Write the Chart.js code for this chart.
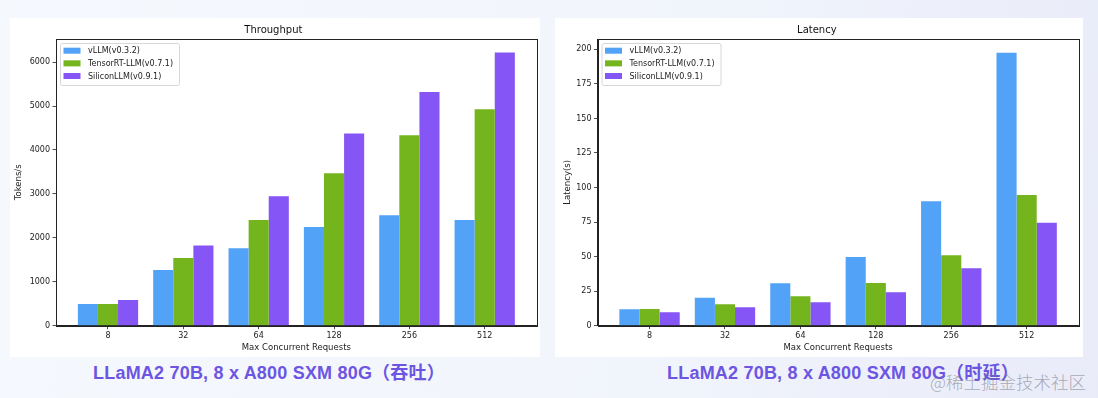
<!DOCTYPE html>
<html>
<head>
<meta charset="utf-8">
<script src="https://cdn.jsdelivr.net/npm/chart.js@4.4.1/dist/chart.umd.min.js"></script>
<style>
  html, body { margin: 0; padding: 0; }
  body {
    width: 1098px; height: 398px; overflow: hidden; position: relative;
    background: linear-gradient(100deg, #f5f8fd 0%, #f2f6fc 55%, #e9ebf9 100%);
  }
  .panel { position: absolute; background: #fff; }
  .panel canvas { display: block; }
  .caption {
    position: absolute; top: 361px; height: 24px; line-height: 24px;
    font-family: "Liberation Sans", "Noto Sans CJK SC", sans-serif;
    font-weight: bold; font-size: 18px; letter-spacing: 0.2px;
    color: #6c55e2; text-align: center; white-space: nowrap;
  }
  .mark {
    position: absolute; left: 930px; top: 369px;
    font-family: "Noto Sans CJK SC", sans-serif; font-size: 17.5px; font-weight: 300;
    color: rgba(110, 110, 125, 0.55); white-space: nowrap;
  }
</style>
</head>
<body>
<div class="panel" style="left:10px; top:18px; width:530px; height:339px;">
  <canvas id="throughput" width="530" height="339"></canvas>
</div>
<div class="panel" style="left:555px; top:18px; width:528px; height:339px;">
  <canvas id="latency" width="528" height="339"></canvas>
</div>
<div class="caption" style="left:69px; width:400px;">LLaMA2 70B, 8 x A800 SXM 80G（吞吐）</div>
<div class="caption" style="left:643px; width:400px;">LLaMA2 70B, 8 x A800 SXM 80G（时延）</div>
<div class="mark">@稀土掘金技术社区</div>

<script>
// ─── Data ────────────────────────────────────────────────────────────────────
const categories  = ["8", "32", "64", "128", "256", "512"];
const seriesNames = ["vLLM(v0.3.2)", "TensorRT-LLM(v0.7.1)", "SiliconLLM(v0.9.1)"];
const seriesColors = ["#52a2f7", "#74b41c", "#8655f6"];

const throughputVllm    = [493, 1265, 1760, 2245, 2515, 2405];
const throughputTrt     = [493, 1540, 2405, 3470, 4335, 4925];
const throughputSilicon = [585, 1825, 2945, 4375, 5320, 6215];
const throughputTicks   = [0, 1000, 2000, 3000, 4000, 5000, 6000];

const latencyVllm    = [11.9, 20.3, 30.7, 49.7, 90.0, 197.6];
const latencyTrt     = [12.1, 15.5, 21.3, 30.9, 51.0, 94.6];
const latencySilicon = [9.7, 13.3, 16.9, 24.2, 41.5, 74.5];
const latencyTicks   = [0, 25, 50, 75, 100, 125, 150, 175, 200];

Chart.defaults.font.family = "'DejaVu Sans', sans-serif";
Chart.defaults.color = "#222";
Chart.defaults.animation = false;

// matplotlib-style full frame round the plot area
const framePlugin = {
    id: "frame",
    afterDraw(chart) {
        const { ctx, chartArea: a } = chart;
        ctx.save();
        ctx.strokeStyle = "#222";
        ctx.lineWidth = 1;
        ctx.strokeRect(Math.round(a.left) + 0.5, Math.round(a.top) + 0.5,
                       Math.round(a.right - a.left), Math.round(a.bottom - a.top));
        ctx.restore();
    },
};

// legend drawn inside the plot, upper left, stacked like matplotlib
const insideLegend = {
    id: "insideLegend",
    afterDraw(chart) {
        const { ctx, chartArea: a } = chart;
        const sets = chart.data.datasets;
        ctx.save();
        ctx.font = "8px 'DejaVu Sans'";
        let w = 0;
        sets.forEach((d) => { w = Math.max(w, ctx.measureText(d.label).width); });
        const bx = a.left + 4, by = a.top + 4;
        const bw = w + 34, bh = 42;
        ctx.beginPath();
        ctx.roundRect(bx + 0.5, by + 0.5, bw, bh, 2);
        ctx.fillStyle = "rgba(255,255,255,0.85)";
        ctx.fill();
        ctx.strokeStyle = "#d6d6d6";
        ctx.lineWidth = 1;
        ctx.stroke();
        ctx.textBaseline = "middle";
        sets.forEach((d, i) => {
            const cy = a.top + 11.7 + i * 12.65;
            ctx.fillStyle = d.backgroundColor;
            ctx.fillRect(a.left + 7.5, cy - 3, 17, 6);
            ctx.fillStyle = "#222";
            ctx.fillText(d.label, a.left + 32, cy + 0.5);
        });
        ctx.restore();
    },
};

function makeChart(id, title, yTitle, values, ticks, yMax, yWidth, yTitlePad, rightPad) {
    new Chart(document.getElementById(id), {
        type: "bar",
        data: {
            datasets: values.map((vals, k) => ({
                label: seriesNames[k],
                data: vals.map((v, i) => ({ x: i, y: v })),
                backgroundColor: seriesColors[k],
                borderWidth: 0,
                categoryPercentage: 0.8,
                barPercentage: 1.0,
            })),
        },
        options: {
            responsive: false,
            devicePixelRatio: 1,
            layout: { padding: { left: 0, right: rightPad, top: 0, bottom: 0 } },
            plugins: {
                legend: { display: false },
                tooltip: { enabled: false },
                title: {
                    display: true, text: title, color: "#111",
                    font: { size: 10, weight: "normal" },
                    padding: { top: 6, bottom: 3 },
                },
            },
            scales: {
                x: {
                    type: "linear", min: -0.69, max: 5.69, offset: false,
                    afterBuildTicks: (s) => { s.ticks = categories.map((_, i) => ({ value: i })); },
                    afterFit: (s) => { s.height = 31.3; },
                    ticks: {
                        callback: (v) => categories[v] ?? "",
                        font: { size: 8 }, padding: 1.5, maxRotation: 0,
                    },
                    grid: { offset: false, drawOnChartArea: false, tickLength: 3.5, color: "#222", lineWidth: 0.8 },
                    border: { display: true, color: "#222" },
                    title: {
                        display: true, text: "Max Concurrent Requests",
                        font: { size: 8.5 }, padding: { top: 0, bottom: 4.2 },
                    },
                },
                y: {
                    min: 0, max: yMax,
                    afterBuildTicks: (s) => { s.ticks = ticks.map((v) => ({ value: v })); },
                    afterFit: (s) => { s.width = yWidth; },
                    ticks: { font: { size: 8 }, padding: 2.5, callback: (v) => String(v) },
                    grid: { drawOnChartArea: false, tickLength: 3.5, color: "#222", lineWidth: 0.8 },
                    border: { display: true, color: "#222" },
                    title: {
                        display: true, text: yTitle,
                        font: { size: 8.5 }, padding: { top: yTitlePad, bottom: 0 },
                    },
                },
            },
        },
        plugins: [framePlugin, insideLegend],
    });
}

makeChart("throughput", "Throughput", "Tokens/s",
    [throughputVllm, throughputTrt, throughputSilicon], throughputTicks, 6525, 46, 4, 3.3);
makeChart("latency", "Latency", "Latency(s)",
    [latencyVllm, latencyTrt, latencySilicon], latencyTicks, 207.5, 42.5, 7.2, 4.3);
</script>
</body>
</html>
